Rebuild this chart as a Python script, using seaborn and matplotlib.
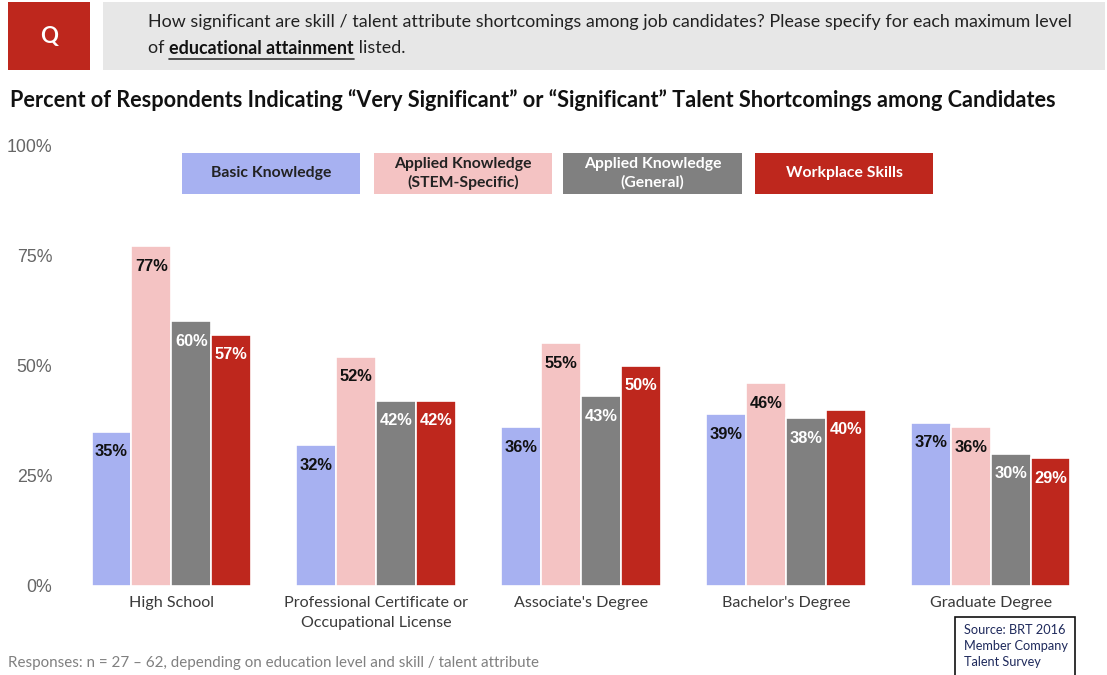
import matplotlib
matplotlib.use("Agg")
import matplotlib.pyplot as plt
from matplotlib.patches import Rectangle
import seaborn as sns
import pandas as pd

categories = ["High School", "Professional Certificate or\nOccupational License",
              "Associate's Degree", "Bachelor's Degree", "Graduate Degree"]
series_names = ["Basic Knowledge", "Applied Knowledge\n(STEM-Specific)",
                "Applied Knowledge\n(General)", "Workplace Skills"]
basic = [35, 32, 36, 39, 37]
stem = [77, 52, 55, 46, 36]
general = [60, 42, 43, 38, 30]
workplace = [57, 42, 50, 40, 29]
yticks = [0, 25, 50, 75, 100]
ytick_labels = ["0%", "25%", "50%", "75%", "100%"]

colors = ["#A7B1F1", "#F4C3C3", "#808080", "#BE271D"]
label_colors = ["#111111", "#111111", "white", "white"]

rows = []
for s, vals in zip(series_names, [basic, stem, general, workplace]):
    for c, v in zip(categories, vals):
        rows.append({"cat": c, "series": s, "value": v})
df = pd.DataFrame(rows)

sns.set_theme(style="white")
plt.rcParams["font.family"] = ["Lato", "DejaVu Sans"]

W, H = 1107, 675
fig = plt.figure(figsize=(W / 100, H / 100), dpi=100)
ax = fig.add_axes([69 / W, (H - 586) / H, 1024 / W, 441 / H])

sns.barplot(data=df, x="cat", y="value", hue="series", order=categories,
            hue_order=series_names, palette=colors, width=0.78, saturation=1,
            edgecolor="white", linewidth=1.2, legend=False, ax=ax)

for i, cont in enumerate(ax.containers):
    for bar, v in zip(cont, df[df.series == series_names[i]]["value"]):
        ax.annotate(f"{v}%", (bar.get_x() + bar.get_width() / 2, bar.get_height()),
                    xytext=(0, -14.5), textcoords="offset points", ha="center", va="center",
                    fontsize=11.8, fontweight="bold", color=label_colors[i],
                    family=["Liberation Sans", "DejaVu Sans"])

ax.set_xlim(-0.5, 4.5)
ax.set_ylim(0, 100)
ax.set_yticks(yticks)
ax.set_yticklabels(ytick_labels, color="#666666", fontsize=12.8,
                   family=["Liberation Sans", "DejaVu Sans"])
ax.tick_params(axis="y", length=0, pad=12)
ax.tick_params(axis="x", length=0, pad=7, labelsize=11.6, labelcolor="#3A3A3A")
for lab in ax.get_xticklabels():
    lab.set_linespacing(1.55)
ax.set_xlabel("")
ax.set_ylabel("")
for sp in ax.spines.values():
    sp.set_visible(False)
ax.grid(False)

# legend boxes
def fx(px):
    return px / W

def fy(py):
    return 1 - py / H

legend_boxes = [(182, 360), (374, 552), (563, 742), (755, 933)]
legend_text_colors = ["#222222", "#222222", "white", "white"]
for (x0, x1), name, col, tc in zip(legend_boxes, series_names, colors, legend_text_colors):
    fig.patches.append(Rectangle((fx(x0), fy(194)), fx(x1 - x0), (194 - 153) / H,
                                 transform=fig.transFigure, facecolor=col, edgecolor="none"))
    fig.text(fx((x0 + x1) / 2), fy(173.5), name, ha="center", va="center", fontsize=11.3,
             fontweight="bold", color=tc, linespacing=1.4)

# header
fig.patches.append(Rectangle((fx(8), fy(70)), fx(82), 68 / H, transform=fig.transFigure,
                             facecolor="#BE271D", edgecolor="none"))
fig.text(fx(49), fy(37), "Q", ha="center", va="center", fontsize=16, fontweight="bold", color="white")
fig.patches.append(Rectangle((fx(103), fy(70)), fx(1002), 68 / H, transform=fig.transFigure,
                             facecolor="#E7E7E7", edgecolor="none"))

renderer = fig.canvas.get_renderer()
qsize = 12.9
fig.text(fx(148), fy(22), "How significant are skill / talent attribute shortcomings among job candidates? Please specify for each maximum level",
         ha="left", va="center", fontsize=qsize, color="#222222")
t1 = fig.text(fx(148), fy(48), "of ", ha="left", va="center", fontsize=qsize, color="#222222")
bb1 = t1.get_window_extent(renderer)
t2 = fig.text(bb1.x1 / W, fy(48), "educational attainment", ha="left", va="center",
              fontsize=qsize, fontweight="bold", color="#111111")
bb2 = t2.get_window_extent(renderer)
fig.text(bb2.x1 / W, fy(48), " listed.", ha="left", va="center", fontsize=qsize, color="#222222")
fig.lines.append(plt.Line2D([bb2.x0 / W, bb2.x1 / W], [fy(59), fy(59)], transform=fig.transFigure,
                            color="#333333", linewidth=1.2))

# title
fig.text(fx(10), fy(100), "Percent of Respondents Indicating \u201cVery Significant\u201d or \u201cSignificant\u201d Talent Shortcomings among Candidates",
         ha="left", va="center", fontsize=15.6, fontweight="bold", color="#111111")

# footnote
fig.text(fx(8), fy(663), "Responses: n = 27 \u2013 62, depending on education level and skill / talent attribute",
         ha="left", va="center", fontsize=10.9, color="#808080")

# source box
fig.patches.append(Rectangle((fx(955), fy(677)), fx(120), 60 / H, transform=fig.transFigure,
                             facecolor="white", edgecolor="#111111", linewidth=1.2))
for py, line in zip([630, 646, 662], ["Source: BRT 2016", "Member Company", "Talent Survey"]):
    fig.text(fx(964), fy(py), line, ha="left", va="center", fontsize=9.2, color="#1F2A5C")

fig.savefig("out.png", dpi=100)
